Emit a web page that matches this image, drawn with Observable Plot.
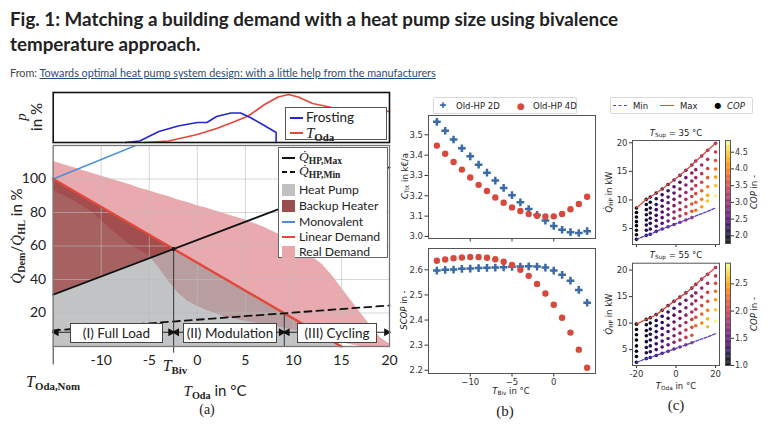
<!DOCTYPE html>
<html><head><meta charset="utf-8">
<script src="https://cdn.jsdelivr.net/npm/d3@7"></script>
<script src="https://cdn.jsdelivr.net/npm/@observablehq/plot@0.6"></script>
<style>
html,body{margin:0;padding:0;background:#fff;}
body{width:768px;height:431px;position:relative;overflow:hidden;font-family:Lato,sans-serif;color:#222;}
.abs{position:absolute;}
.lab{white-space:nowrap;line-height:1;}
.ser{font-family:"Liberation Serif",serif;}
.mpl{font-family:"DejaVu Sans",sans-serif;font-size:8.5px;color:#222;}
.cal{font-family:Lato,sans-serif;}
sub{font-size:0.68em;vertical-align:-0.3em;line-height:0;}
.box{position:absolute;background:#fff;box-sizing:border-box;}
#title{left:10px;top:6px;font-weight:700;font-size:18.8px;line-height:25px;color:#222;white-space:nowrap;}
#from{left:10px;top:66px;font-size:10.8px;color:#444;white-space:nowrap;}
#from a{color:#1f4e79;text-decoration:underline;}
</style></head><body>
<div id="title" class="abs">Fig. 1: Matching a building demand with a heat pump size using bivalence<br>temperature approach.</div>
<div id="from" class="abs">From: <a>Towards optimal heat pump system design: with a little help from the manufacturers</a></div>
<script>
// ================= Panel (a) data =================
const tOdaNom = -15, tEndA = 20;
const linDemT = [-15, 15], linDemY = [100, 0];          // Linear Demand
const qMaxT = [-15, 20], qMaxY = [31, 107];               // Q_HP,Max
const qMinT = [-15, 20], qMinY = [9.6, 24.5];             // Q_HP,Min
const monoT = [-15, -5], monoY = [100, 123.3];            // Monovalent
const realT  = [-15,-13,-11,-9,-7,-6,-5,-4,-3,-2,-1,0,1,3,5,7,9,11,13,14,15,16,17,18,19,20];
const realHi = [110.5,107,103.5,100,96.5,94.5,93,91,89.5,87.5,86,84,82.5,79,75.5,71,65.5,58,49,42.5,35,27.5,20,12.5,5.5,1.5];
const realLo = [93,87.5,80.5,70,60.5,57.5,54,47,39,32,27,24,21.5,17.5,15,13,11,8.5,5.5,4,2.5,1,0,0,0,0];
const frostT = [-7.5,-6,-4,-2,0,1,2,3.5,4.5,5.5,6.7,8.2,8.2];
const frostP = [0,0.3,2.2,3.3,4.0,4.0,5.2,5.9,5.9,5.0,3.7,2.0,0];
const todaT = [-5.5,-3,0,2,3.5,5.3,7,8.4,9.5,10.5,12,14,17,20];
const todaP = [0,0.3,1.6,2.8,3.9,5.3,7.6,9.1,9.6,9.1,7.8,7.0,6.6,6.2];
const xTicksA = [-10,-5,0,5,10,15,20];
const yTicksA = [20,40,60,80,100];
const phaseLabels = ["(I) Full Load","(II) Modulation","(III) Cycling"];

// ================= Panel (b) data =================
const bT = [-14,-13,-12,-11,-10,-9,-8,-7,-6,-5,-4,-3,-2,-1,0,1,2,3,4];
const cost2D = [3.564,3.520,3.477,3.434,3.394,3.353,3.314,3.275,3.239,3.203,3.168,3.135,3.106,3.078,3.052,3.033,3.021,3.017,3.026];
const cost4D = [3.447,3.407,3.366,3.329,3.290,3.254,3.224,3.192,3.166,3.143,3.125,3.111,3.102,3.098,3.099,3.111,3.134,3.160,3.195];
const scop2D = [2.597,2.600,2.601,2.604,2.605,2.607,2.608,2.609,2.610,2.612,2.613,2.614,2.613,2.609,2.597,2.580,2.557,2.520,2.469];
const scop4D = [2.636,2.641,2.646,2.649,2.651,2.651,2.648,2.642,2.632,2.619,2.600,2.576,2.544,2.506,2.461,2.409,2.350,2.282,2.210];

// ================= Panel (c) data =================
const tc = [-20,-15,-13,-10,-7,-4,-1,2,5,8,10,13,16,20];
const max35 = [8.6,10.1,10.5,11.2,11.9,12.7,13.5,14.3,15.2,16.1,16.8,17.7,18.7,19.9];
const min35 = [3.1,3.8,4.0,4.5,4.9,5.3,5.7,6.1,6.5,6.9,7.2,7.6,8.0,8.6];
const q35 = [
 [8.6,7.8,7.0,6.2,5.5,4.7,3.9,3.1],
 [10.1,9.2,8.3,7.4,6.5,5.6,4.7,3.8],
 [10.5,9.6,8.6,7.7,6.8,5.9,4.9,4.0],
 [11.2,10.2,9.2,8.3,7.3,6.4,5.4,4.5],
 [11.9,10.9,9.9,8.9,7.9,6.9,5.9,4.9],
 [12.7,11.6,10.5,9.5,8.4,7.4,6.3,5.3],
 [13.5,12.3,11.2,10.1,9.0,7.9,6.8,5.7],
 [14.3,13.1,11.9,10.7,9.5,8.3,7.2,6.1],
 [15.2,13.9,12.6,11.3,10.1,8.8,7.6,6.5],
 [16.1,14.7,13.3,11.9,10.6,9.3,8.0,6.9],
 [16.8,15.3,13.9,12.5,11.1,9.6,8.2],
 [17.7,16.1,14.6,13.1,11.6,10.1,8.8],
 [18.7,17.1,15.5,13.9,12.3,10.8,9.8],
 [19.9,18.4,16.9,15.4,14.0,12.5,10.7]];
const cop35 = [
 [1.85,1.85,1.85,1.9,1.9,1.9,1.95,1.95],
 [1.95,2.0,2.0,2.05,2.1,2.1,2.15,2.15],
 [2.0,2.05,2.1,2.15,2.2,2.25,2.25,2.3],
 [2.1,2.15,2.25,2.3,2.35,2.4,2.45,2.45],
 [2.2,2.3,2.35,2.45,2.5,2.6,2.6,2.6],
 [2.3,2.4,2.5,2.6,2.7,2.75,2.8,2.75],
 [2.4,2.5,2.6,2.75,2.85,2.95,3.0,2.9],
 [2.5,2.6,2.75,2.9,3.05,3.15,3.2,3.1],
 [2.6,2.75,2.9,3.05,3.2,3.35,3.45,3.3],
 [2.7,2.85,3.0,3.2,3.4,3.6,3.7,3.5],
 [2.8,2.95,3.15,3.35,3.55,3.8,3.9],
 [2.9,3.1,3.3,3.5,3.75,4.0,4.2],
 [3.0,3.2,3.45,3.7,3.95,4.25,4.45],
 [3.2,3.4,3.65,3.9,4.15,4.45,4.75]];
const max55 = [9.8,10.7,11.0,11.6,12.4,13.3,14.1,14.9,15.7,16.6,17.3,18.3,19.2,20.5];
const min55 = [2.6,3.3,3.5,3.9,4.3,4.7,5.1,5.5,5.9,6.3,6.6,7.0,7.4,8.0];
const q55 = [
 [9.8,8.8,7.8,6.8,5.7,4.7,3.7,2.6],
 [10.7,9.7,8.6,7.6,6.5,5.4,4.4,3.3],
 [11.0,10.0,8.9,7.9,6.8,5.7,4.6,3.5],
 [11.6,10.5,9.5,8.4,7.3,6.1,5.0,3.9],
 [12.4,11.3,10.1,9.0,7.8,6.6,5.5,4.3],
 [13.3,12.1,10.9,9.6,8.4,7.1,5.9,4.7],
 [14.1,12.8,11.5,10.2,8.9,7.6,6.4,5.1],
 [14.9,13.6,12.2,10.9,9.5,8.1,6.8,5.5],
 [15.7,14.3,12.9,11.5,10.1,8.7,7.3,5.9],
 [16.6,15.1,13.6,12.1,10.7,9.2,7.7,6.3],
 [17.3,15.7,14.2,12.6,11.1,9.5],
 [18.3,16.6,14.9,13.3,11.7,10.0],
 [19.2,17.5,15.8,14.1,12.4,10.8,9.3],
 [20.5,18.9,17.5,16.0,14.4,12.5,10.3]];
const cop55 = [
 [1.0,1.02,1.04,1.06,1.08,1.1,1.12,1.12],
 [1.08,1.1,1.13,1.15,1.18,1.2,1.22,1.22],
 [1.12,1.15,1.18,1.2,1.23,1.26,1.28,1.28],
 [1.18,1.22,1.25,1.29,1.32,1.35,1.37,1.36],
 [1.24,1.28,1.32,1.37,1.41,1.45,1.47,1.45],
 [1.3,1.35,1.4,1.46,1.51,1.56,1.58,1.55],
 [1.36,1.42,1.48,1.55,1.62,1.68,1.7,1.66],
 [1.42,1.49,1.57,1.65,1.73,1.8,1.83,1.78],
 [1.48,1.56,1.65,1.75,1.85,1.94,1.97,1.9],
 [1.54,1.63,1.74,1.86,1.98,2.1,2.12,2.02],
 [1.6,1.7,1.82,1.95,2.1,2.25],
 [1.65,1.77,1.9,2.05,2.22,2.4],
 [1.72,1.85,2.0,2.16,2.35,2.55,2.6],
 [1.8,1.95,2.1,2.28,2.45,2.65,2.82]];
const cop35Domain = [1.77, 4.85], cop55Domain = [1.0, 2.88];

// ================= helpers =================
function place(svg, left, top){
  const d = document.createElement("div");
  d.className = "abs"; d.style.left = left+"px"; d.style.top = top+"px";
  d.style.width = svg.getAttribute("width")+"px";
  d.appendChild(svg); document.body.appendChild(d); return d;
}
function lab(html, cx, cy, cls, style, rot){
  const d = document.createElement("div");
  d.className = "abs lab " + (cls||""); d.innerHTML = html;
  d.style.left = cx+"px"; d.style.top = cy+"px";
  d.style.transform = "translate(-50%,-50%)" + (rot ? " rotate(-90deg)" : "");
  Object.assign(d.style, style||{}); document.body.appendChild(d); return d;
}
function el(left, top, w, h, style){
  const d = document.createElement("div"); d.className = "box";
  Object.assign(d.style, {left:left+"px", top:top+"px", width:w+"px", height:h+"px"}, style||{});
  document.body.appendChild(d); return d;
}
const zip = (ts, ys) => ts.map((t,i)=>({t, y: ys[i]}));
const slope = (T,Y) => (Y[1]-Y[0])/(T[1]-T[0]);
const at = (T,Y,t) => Y[0] + slope(T,Y)*(t-T[0]);
function cross(T1,Y1,T2,Y2){
  const a1 = slope(T1,Y1), b1 = Y1[0]-a1*T1[0], a2 = slope(T2,Y2), b2 = Y2[0]-a2*T2[0];
  return (b2-b1)/(a1-a2);
}
const tBiv = cross(linDemT, linDemY, qMaxT, qMaxY), qBiv = at(linDemT, linDemY, tBiv);
const tCyc = cross(linDemT, linDemY, qMinT, qMinY), qCyc = at(linDemT, linDemY, tCyc);

// ================= Panel (a): p subplot =================
place(Plot.plot({
  width:400, height:56, marginLeft:52.7, marginRight:11, marginTop:4, marginBottom:2,
  x:{domain:[-15,20], axis:null}, y:{domain:[0,10], axis:null},
  style:{background:"transparent", overflow:"visible"},
  marks:[
    Plot.line(zip(todaT,todaP), {x:"t", y:"y", stroke:"#e8453a", strokeWidth:1.6}),
    Plot.line(zip(frostT,frostP), {x:"t", y:"y", stroke:"#2626d2", strokeWidth:1.6}),
    Plot.frame({stroke:"#111", strokeWidth:1.6})
  ]
}), 0, 88);

// ================= Panel (a): main =================
const real = realT.map((t,i)=>({t, lo:realLo[i], hi:realHi[i]}));
const hpArea = [{t:linDemT[0], y:qMaxY[0]}, {t:tBiv, y:qBiv}, {t:linDemT[1], y:linDemY[1]}];
const backup = [{t:qMaxT[0], lo:qMaxY[0], hi:linDemY[0]}, {t:tBiv, lo:qBiv, hi:qBiv}];
const bounds = [tOdaNom, tBiv, tCyc, tEndA];
const yArr = 8.5;
place(Plot.plot({
  width:400, height:240, marginLeft:52.7, marginRight:11, marginTop:5, marginBottom:34,
  x:{domain:[-15,20], ticks:xTicksA, tickFormat:d=>String(d), tickSize:0, tickPadding:9, label:null},
  y:{domain:[0,120], ticks:yTicksA, tickSize:0, tickPadding:7, label:null},
  style:{fontFamily:"Lato", fontSize:"14px", color:"#222", background:"transparent", overflow:"visible"},
  marks:[
    Plot.areaY(real, {x:"t", y1:"lo", y2:"hi", fill:"#d2555d", fillOpacity:0.5}),
    Plot.areaY(hpArea, {x:"t", y:"y", fill:"#8f9498", fillOpacity:0.55}),
    Plot.areaY(backup, {x:"t", y1:"lo", y2:"hi", fill:"#8e3434", fillOpacity:0.78}),
    Plot.gridX({ticks:xTicksA, stroke:"#bdbdbd", strokeOpacity:0.6}),
    Plot.gridY({ticks:yTicksA, stroke:"#bdbdbd", strokeOpacity:0.6}),
    Plot.line(zip(monoT,monoY), {x:"t", y:"y", stroke:"#4d8fd6", strokeWidth:1.5, clip:true}),
    Plot.line(zip(linDemT,linDemY), {x:"t", y:"y", stroke:"#e2473b", strokeWidth:2.4}),
    Plot.line(zip(qMinT,qMinY), {x:"t", y:"y", stroke:"#111", strokeWidth:1.8, strokeDasharray:"7,5"}),
    Plot.line(zip(qMaxT,qMaxY), {x:"t", y:"y", stroke:"#111", strokeWidth:1.8}),
    Plot.ruleX([tBiv], {y1:-4, y2:qBiv, stroke:"#333", strokeWidth:1}),
    Plot.ruleX([tCyc], {y1:0, y2:qCyc, stroke:"#333", strokeWidth:1}),
    Plot.ruleX([tOdaNom], {y1:-11, y2:0, stroke:"#333", strokeWidth:1}),
    Plot.ruleY([yArr], {x1:tOdaNom, x2:tEndA, stroke:"#222", strokeWidth:1}),
    Plot.dot(bounds.slice(0,3), {x:d=>d, y:yArr, symbol:"triangle", rotate:-90, r:3, fill:"#111", dx:3}),
    Plot.dot(bounds.slice(1), {x:d=>d, y:yArr, symbol:"triangle", rotate:90, r:3, fill:"#111", dx:-3}),
    Plot.dot([tBiv], {x:d=>d, y:qBiv, r:2, fill:"#111"}),
    Plot.frame({stroke:"#777", strokeWidth:1.3})
  ]
}), 0, 140);

// phase boxes
const phasePx = [[70,93],[183,94],[297,80]];
phaseLabels.forEach((s,i)=>{
  const b = el(phasePx[i][0], 323, phasePx[i][1], 20, {border:"1px solid #444", fontFamily:"Lato", fontSize:"13.5px", lineHeight:"18px", textAlign:"center", color:"#222"});
  b.textContent = s;
});

// p legend
el(285,107,102,33,{border:"1px solid #555"});
el(290,117,13,0,{borderTop:"2px solid #2626d2"});
lab("Frosting", 306, 118, "cal", {fontSize:"13.5px", transform:"translate(0,-50%)"});
el(290,132,13,0,{borderTop:"2px solid #e8453a"});
lab('<i class="ser" style="font-size:15px">T</i><sub class="ser" style="font-weight:bold">Oda</sub>', 306, 132, "", {transform:"translate(0,-50%)"});

// main legend
el(278,147,110,111,{border:"1px solid #666"});
const legRows = [157.5,172,189.5,205.5,221.5,236.5,252];
el(282,legRows[0]-1,13,0,{borderTop:"2px solid #111"});
lab('<i class="ser" style="font-size:13.5px">Q&#775;</i><sub class="ser" style="font-weight:bold;font-size:9.5px">HP,Max</sub>', 299, legRows[0]-1, "", {fontSize:"10px", transform:"translate(0,-50%)"});
el(282,legRows[1]-1,5,0,{borderTop:"2px solid #111"});
el(290,legRows[1]-1,5,0,{borderTop:"2px solid #111"});
lab('<i class="ser" style="font-size:13.5px">Q&#775;</i><sub class="ser" style="font-weight:bold;font-size:9.5px">HP,Min</sub>', 299, legRows[1]-1, "", {fontSize:"10px", transform:"translate(0,-50%)"});
const legItems = [["sq","#c0c1c3","Heat Pump"],["sq","#9a4f4f","Backup Heater"],["ln","#4d8fd6","Monovalent"],["ln","#e2473b","Linear Demand"],["sq","#e8a8ab","Real Demand"]];
legItems.forEach((it,i)=>{
  const y = legRows[i+2];
  if (it[0]==="sq") el(282,y-6,13,12,{background:it[1]});
  else el(282,y-1,13,0,{borderTop:"2px solid "+it[1]});
  lab(it[2], 299, y, "cal", {fontSize:"12.2px", transform:"translate(0,-50%)"});
});

// axis labels (a)
lab('<i class="ser">p</i><br><span class="cal">in %</span>', 28, 117, "", {fontSize:"15px", lineHeight:"15px", textAlign:"center"}, true);
lab('<i class="ser">Q&#775;</i><sub class="ser" style="font-weight:bold">Dem</sub>/<i class="ser">Q&#775;</i><sub class="ser" style="font-weight:bold">HL</sub><span class="cal"> in %</span>', 17, 236, "", {fontSize:"15px"}, true);
lab('<i class="ser">T</i><sub class="ser" style="font-weight:bold">Biv</sub>', 175, 365, "", {fontSize:"16px"});
lab('<i class="ser">T</i><sub class="ser" style="font-weight:bold">Oda,Nom</sub>', 53, 381, "", {fontSize:"16px"});
lab('<i class="ser">T</i><sub class="ser" style="font-weight:bold">Oda</sub><span class="cal"> in °C</span>', 215, 391, "", {fontSize:"15px"});
lab('(a)', 207, 410, "ser", {fontSize:"14px"});

// ================= Panel (b) =================
const blue = "#3a6aa8", red = "#d6493c";
const bStyle = {fontFamily:"DejaVu Sans", fontSize:"8.5px", color:"#333", background:"transparent", overflow:"visible"};
const b2d = bT.map((t,i)=>({t, c:cost2D[i], s:scop2D[i]}));
const b4d = bT.map((t,i)=>({t, c:cost4D[i], s:scop4D[i]}));
place(Plot.plot({
  width:205, height:132, marginLeft:33, marginRight:5, marginTop:5, marginBottom:4,
  x:{domain:[-15,5], ticks:[-10,-5,0], tickSize:3.5, tickFormat:()=>"", label:null},
  y:{domain:[2.99,3.595], ticks:[3.0,3.1,3.2,3.3,3.4,3.5], tickFormat:".1f", tickSize:3.5, tickPadding:2, label:null},
  style:bStyle,
  marks:[
    Plot.dot(b2d, {x:"t", y:"c", symbol:"plus", stroke:blue, strokeWidth:2.5, r:2.6}),
    Plot.dot(b4d, {x:"t", y:"c", fill:red, r:3.2}),
    Plot.frame({stroke:"#555"})
  ]
}), 395, 110);
place(Plot.plot({
  width:205, height:160, marginLeft:33, marginRight:5, marginTop:5, marginBottom:30,
  x:{domain:[-15,5], ticks:[-10,-5,0], tickSize:3.5, tickPadding:2, label:null},
  y:{domain:[2.187,2.685], ticks:[2.2,2.3,2.4,2.5,2.6], tickFormat:".1f", tickSize:3.5, tickPadding:2, label:null},
  style:bStyle,
  marks:[
    Plot.dot(b2d, {x:"t", y:"s", symbol:"plus", stroke:blue, strokeWidth:2.5, r:2.6}),
    Plot.dot(b4d, {x:"t", y:"s", fill:red, r:3.2}),
    Plot.frame({stroke:"#555"})
  ]
}), 395, 243);
lab('<i>C</i><sub>Tot</sub> in k€/a', 405, 176, "mpl", {}, true);
lab('<i>SCOP</i> in -', 404, 310, "mpl", {}, true);
lab('<i>T</i><sub>Biv</sub> in °C', 511, 391, "mpl");
lab('(b)', 505, 411, "ser", {fontSize:"15px"});
el(433,97,144,17,{border:"1px solid #d8d8d8", borderRadius:"2px"});
lab('✚', 443, 105.5, "mpl", {color:blue, fontSize:"8px"});
lab('Old-HP 2D', 456, 105.5, "mpl", {transform:"translate(0,-50%)"});
lab('●', 521, 105.5, "mpl", {color:red, fontSize:"9px"});
lab('Old-HP 4D', 533, 105.5, "mpl", {transform:"translate(0,-50%)"});

// ================= Panel (c) =================
const flat = (Q,C) => Q.flatMap((col,i)=>col.map((q,j)=>({t:tc[i], q, cop:C[i][j]})));
const d35 = flat(q35, cop35), d55 = flat(q55, cop55);
const cStyle = {fontFamily:"DejaVu Sans", fontSize:"8.5px", color:"#333", background:"transparent", overflow:"visible"};
function cPanel(data, mx, mn, ydom, cdom, labels, h, mt, mb){
  return Plot.plot({
    width:125, height:h, marginLeft:32, marginRight:6, marginTop:mt, marginBottom:mb,
    x:{domain:[-22,22], ticks:[-20,0,20], tickSize:3, tickPadding:2, tickFormat: labels ? d=>String(d) : ()=>"", label:null},
    y:{domain:ydom, ticks:[5,10,15,20], tickSize:3, tickPadding:2, label:null},
    color:{type:"linear", scheme:"inferno", domain:cdom},
    style:cStyle,
    marks:[
      Plot.dot(data, {x:"t", y:"q", fill:"cop", r:1.8}),
      Plot.line(zip(tc,mx), {x:"t", y:"y", stroke:"#dc4a3c", strokeWidth:1.3}),
      Plot.line(zip(tc,mn), {x:"t", y:"y", stroke:"#4a3fd0", strokeWidth:1.3, strokeDasharray:"3,1.5"}),
      Plot.frame({stroke:"#555"})
    ]
  });
}
place(cPanel(d35, max35, min35, [2.2,20.4], cop35Domain, false, 112, 5, 3), 600, 135);
place(cPanel(d55, max55, min55, [2.0,21.3], cop55Domain, true, 130, 4.7, 23), 600, 258);
function cbar(dom, ticks, h, mt, mb){
  const step = (dom[1]-dom[0])/120;
  const cells = d3.range(dom[0], dom[1], step);
  return Plot.plot({
    width:35, height:h, marginLeft:5, marginRight:25, marginTop:mt, marginBottom:mb,
    x:{domain:[0,1], axis:null},
    y:{domain:dom, axis:"right", ticks, tickFormat:".1f", tickSize:3, tickPadding:1.5, label:null},
    color:{type:"linear", scheme:"inferno", domain:dom},
    style:{...cStyle, fontSize:"8px"},
    marks:[
      Plot.rect(cells, {x1:0, x2:1, y1:d=>d, y2:d=>Math.min(d+step*1.05, dom[1]), fill:d=>d}),
      Plot.frame({stroke:"#555"})
    ]
  });
}
place(cbar(cop35Domain, [2.0,2.5,3.0,3.5,4.0,4.5], 112, 5, 4), 720, 135);
place(cbar(cop55Domain, [1.0,1.5,2.0,2.5], 112, 4.7, 5), 720, 258);
lab('<i>T</i><sub>Sup</sub> = 35 °C', 676, 133, "mpl");
lab('<i>T</i><sub>Sup</sub> = 55 °C', 676, 255, "mpl");
lab('<i>Q&#775;</i><sub>HP</sub> in kW', 609, 192, "mpl", {}, true);
lab('<i>Q&#775;</i><sub>HP</sub> in kW', 609, 314, "mpl", {}, true);
lab('<i>COP</i> in -', 754, 192, "mpl", {}, true);
lab('<i>COP</i> in -', 754, 314, "mpl", {}, true);
lab('<i>T</i><sub>Oda</sub> in °C', 676, 386, "mpl");
lab('(c)', 676, 405, "ser", {fontSize:"15px"});
el(610,97,143,17,{border:"1px solid #d8d8d8", borderRadius:"2px"});
el(613,105,14,0,{borderTop:"1.5px dashed #4a3fd0"});
lab('Min', 633, 105.5, "mpl", {transform:"translate(0,-50%)"});
el(660,105,14,0,{borderTop:"1.5px solid #dc4a3c"});
lab('Max', 680, 105.5, "mpl", {transform:"translate(0,-50%)"});
lab('●', 718, 105.5, "mpl", {color:"#000", fontSize:"8px"});
lab('<i>COP</i>', 727, 105.5, "mpl", {transform:"translate(0,-50%)"});
</script></body></html>
